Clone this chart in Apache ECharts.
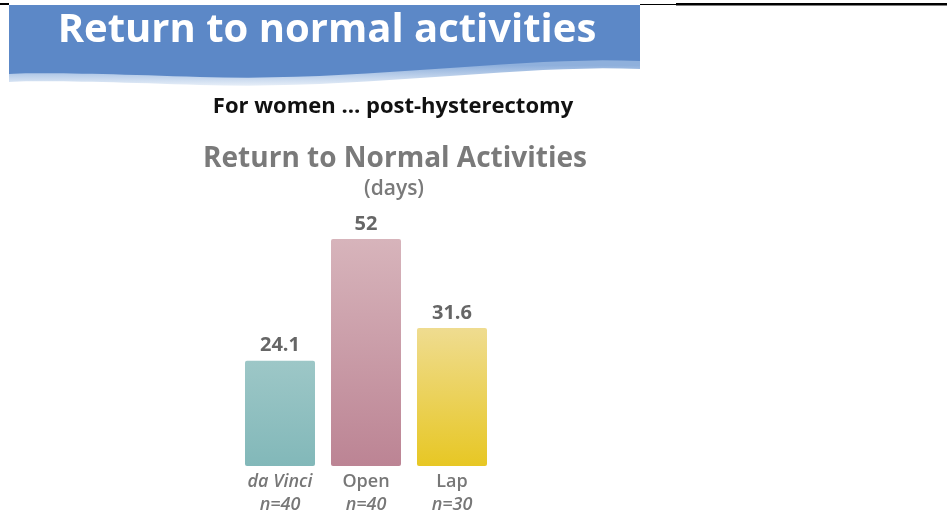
<!DOCTYPE html>
<html>
<head>
<meta charset="utf-8">
<script src="https://cdn.jsdelivr.net/npm/echarts@6/dist/echarts.min.js"></script>
<style>
  html, body { margin: 0; padding: 0; background: #fff; }
  #chart { width: 947px; height: 516px; }
</style>
</head>
<body>
<div id="chart"></div>
<script>
// data
const categories = ['da Vinci', 'Open', 'Lap']
const sampleSizes = ['n=40', 'n=40', 'n=30']
const days = [24.1, 52, 31.6]

const barColors = [
  ['#9dc7c7', '#82b8b9'],
  ['#d7b4bb', '#bc8494'],
  ['#efdc90', '#e7c724']
]

// wavy bottom of the banner, from right to left (dy shifts it down)
function bannerShape(dy) {
  const pts = [[9, 5], [640, 5]]
  const segs = [
    [[640, 61], [520, 56], [360, 82], [200, 77]],
    [[200, 77], [110, 74], [40, 72], [9, 74]]
  ]
  segs.forEach(function (s) {
    for (let t = 0; t <= 1.0001; t += 0.05) {
      const a = (1 - t) * (1 - t) * (1 - t), b = 3 * (1 - t) * (1 - t) * t
      const c = 3 * (1 - t) * t * t, d = t * t * t
      pts.push([
        a * s[0][0] + b * s[1][0] + c * s[2][0] + d * s[3][0],
        a * s[0][1] + b * s[1][1] + c * s[2][1] + d * s[3][1] + dy
      ])
    }
  })
  return pts
}

const myChart = echarts.init(document.getElementById('chart'))

const option = {
  backgroundColor: '#fff',
  animation: false,
  graphic: [
    // black rules at the very top
    { type: 'rect', shape: { x: 0, y: 3, width: 9, height: 2 }, style: { fill: '#000' } },
    { type: 'rect', shape: { x: 640, y: 4, width: 36, height: 1 }, style: { fill: '#000' } },
    { type: 'rect', shape: { x: 676, y: 3, width: 271, height: 2.5 }, style: { fill: '#000' } },
    // banner, lighter lower band
    {
      type: 'polygon',
      shape: { points: bannerShape(8) },
      style: {
        fill: {
          type: 'linear', x: 0, y: 0, x2: 0, y2: 1,
          colorStops: [{ offset: 0.75, color: '#8fb0dc' }, { offset: 1, color: '#e6eef8' }]
        }
      }
    },
    // banner, main blue
    {
      type: 'polygon',
      shape: { points: bannerShape(0) },
      style: { fill: '#5c88c7' }
    },
    {
      type: 'text',
      x: 327, y: 31,
      style: {
        text: 'Return to normal activities',
        fill: '#fff',
        font: 'bold 40px "Open Sans"',
        textAlign: 'center',
        textVerticalAlign: 'middle'
      }
    },
    {
      type: 'text',
      x: 393, y: 107,
      style: {
        text: 'For women \u2026 post-hysterectomy',
        fill: '#111',
        font: 'bold 22px "Open Sans"',
        textAlign: 'center',
        textVerticalAlign: 'middle'
      }
    },
    {
      type: 'text',
      x: 395, y: 159,
      style: {
        text: 'Return to Normal Activities',
        fill: '#7a7a7a',
        font: 'bold 28px "Open Sans"',
        textAlign: 'center',
        textVerticalAlign: 'middle'
      }
    },
    {
      type: 'text',
      x: 394, y: 189,
      style: {
        text: '(days)',
        fill: '#7a7a7a',
        font: '600 21px "Open Sans"',
        textAlign: 'center',
        textVerticalAlign: 'middle'
      }
    }
  ],
  grid: {
    left: 237,
    width: 258,
    top: 239,
    bottom: 50
  },
  xAxis: {
    type: 'category',
    data: categories,
    axisLine: { show: false },
    axisTick: { show: false },
    axisLabel: {
      margin: 4,
      interval: 0,
      formatter: function (value, idx) {
        const first = idx === 0 ? '{it|' + value + '}' : '{up|' + value + '}'
        return first + '\n{it|' + sampleSizes[idx] + '}'
      },
      rich: {
        it: { fontFamily: 'Open Sans', fontStyle: 'italic', fontWeight: 600, fontSize: 18, color: '#777', lineHeight: 23 },
        up: { fontFamily: 'Open Sans', fontWeight: 600, fontSize: 18, color: '#777', lineHeight: 23 }
      }
    }
  },
  yAxis: {
    type: 'value',
    min: 0,
    max: 52,
    show: false
  },
  series: [
    {
      type: 'bar',
      barWidth: 70,
      data: days.map(function (v, i) {
        return {
          value: v,
          itemStyle: {
            color: {
              type: 'linear', x: 0, y: 0, x2: 0, y2: 1,
              colorStops: [
                { offset: 0, color: barColors[i][0] },
                { offset: 1, color: barColors[i][1] }
              ]
            },
            borderRadius: 2
          }
        }
      }),
      label: {
        show: true,
        position: 'top',
        distance: 5,
        color: '#666',
        fontFamily: 'Open Sans',
        fontWeight: 'bold',
        fontSize: 20
      }
    }
  ]
}

myChart.setOption(option)
</script>
</body>
</html>
